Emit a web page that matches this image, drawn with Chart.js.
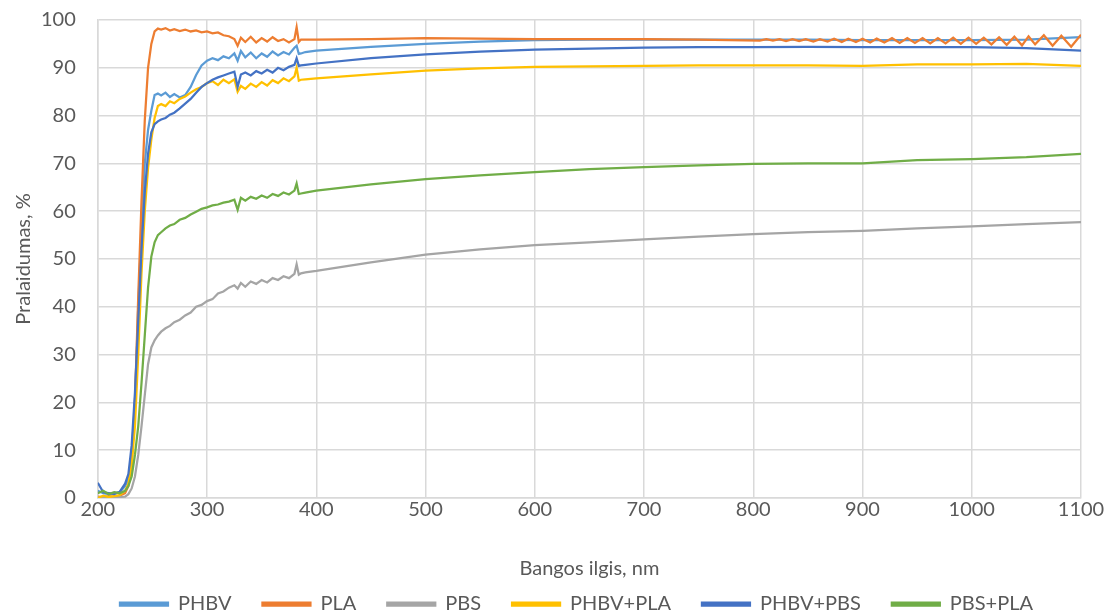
<!DOCTYPE html>
<html>
<head>
<meta charset="utf-8">
<script src="https://cdn.jsdelivr.net/npm/chart.js@4.4.1/dist/chart.umd.min.js"></script>
<style>
  html, body { margin: 0; padding: 0; background: #fff; }
  #wrap { width: 1116px; height: 613px; }
</style>
</head>
<body>
<div id="wrap"><canvas id="spectraChart"></canvas></div>
<script>
// wavelengths (nm) shared by all series
var nm = [200, 205, 210, 215, 220, 225, 228, 231, 234, 237, 240, 243, 246, 249, 252,
          255, 258, 262, 266, 270, 275, 280, 285, 290, 295, 300, 305, 310, 315, 320,
          325, 328, 331, 335, 340, 345, 350, 355, 360, 365, 370, 375, 380, 382, 384,
          386, 390, 400, 450, 500, 550, 600, 650, 700, 750, 800, 850, 900, 950, 1000,
          1050, 1100];

var phbv = [1.5, 1.0, 0.8, 1.0, 1.2, 2.5, 4, 9, 20, 40, 56, 70, 77, 81, 84.3,
            84.6, 84.2, 84.8, 83.9, 84.5, 83.8, 84.3, 86.0, 88.5, 90.5, 91.5, 92.0, 91.6, 92.4, 92.0,
            93.0, 91.5, 93.5, 92.2, 93.2, 92.0, 93.0, 92.3, 93.4, 92.6, 93.3, 92.8, 94.2, 94.6, 92.9,
            93.0, 93.3, 93.6, 94.4, 95.0, 95.5, 95.8, 95.9, 95.9, 95.9, 95.9, 95.9, 95.8, 95.8, 95.8,
            95.9, 96.4];

// PLA up to 800 nm, then the interference fringes
var pla = [0.3, 0.2, 0.4, 0.3, 0.5, 1.0, 2.5, 7, 20, 42, 62, 79, 90, 95, 97.6,
           98.2, 98.0, 98.3, 97.8, 98.1, 97.7, 98.0, 97.6, 97.8, 97.4, 97.6, 97.2, 97.4, 96.8, 96.6,
           96.0, 94.6, 96.3, 95.4, 96.5, 95.3, 96.2, 95.5, 96.4, 95.6, 96.0, 95.3, 96.0, 98.5, 95.4,
           95.9, 95.9, 95.9, 96.0, 96.2, 96.1, 96.0, 96.0, 96.0, 95.9];
var plaFringeNm = [800, 806, 812, 818, 824, 830, 836, 842, 848, 855, 861, 868, 874, 881, 887,
                   894, 900, 907, 913, 920, 927, 934, 941, 948, 955, 962, 969, 976, 983, 990,
                   997, 1004, 1011, 1018, 1025, 1032, 1039, 1046, 1052, 1058, 1066, 1074, 1082, 1091, 1100];
var plaFringe = [95.9, 95.7, 96.0, 95.7, 96.0, 95.6, 96.0, 95.6, 96.0, 95.5, 96.0, 95.5, 96.1, 95.4, 96.1,
                 95.4, 96.1, 95.3, 96.1, 95.3, 96.2, 95.2, 96.2, 95.2, 96.2, 95.1, 96.2, 95.1, 96.3, 95.0,
                 96.3, 95.0, 96.3, 94.9, 96.4, 94.8, 96.5, 94.7, 96.6, 94.9, 96.8, 94.6, 96.7, 94.4, 96.9];

var pbs = [0.2, 0.0, 0.3, 0.1, 0.2, 0.3, 0.8, 2.0, 4.5, 9, 15, 21.5, 28, 31.5, 33.0,
           34.0, 34.8, 35.5, 36.0, 36.8, 37.3, 38.2, 38.8, 40.0, 40.4, 41.2, 41.6, 42.8, 43.2, 44.0,
           44.5, 43.8, 45.0, 44.2, 45.3, 44.8, 45.6, 45.1, 46.0, 45.6, 46.4, 46.0, 46.9, 48.9, 46.7,
           47.0, 47.2, 47.5, 49.3, 50.9, 52.0, 52.9, 53.5, 54.1, 54.7, 55.2, 55.6, 55.9, 56.4, 56.8,
           57.3, 57.7];

var phbvPla = [0.0, 0.5, 0.2, 0.4, 0.6, 1.5, 3, 7, 15, 30, 47, 60, 69, 75, 79.5,
               82.0, 82.4, 82.0, 83.0, 82.6, 83.5, 84.0, 84.8, 85.5, 86.0, 86.8, 87.2, 86.4, 87.5, 86.8,
               87.6, 85.0, 86.2, 85.6, 86.7, 86.0, 87.0, 86.3, 87.4, 86.8, 87.8, 87.2, 88.2, 90.0, 87.3,
               87.5, 87.6, 87.8, 88.6, 89.4, 89.9, 90.2, 90.3, 90.4, 90.5, 90.5, 90.5, 90.4, 90.7, 90.7,
               90.8, 90.4];

var phbvPbs = [3.2, 1.2, 1.0, 0.8, 1.3, 3.0, 5, 11, 22, 37, 52, 64, 72, 76.5, 78.2,
               78.8, 79.2, 79.5, 80.2, 80.6, 81.5, 82.5, 83.5, 84.8, 86.0, 86.8, 87.5, 88.0, 88.4, 88.8,
               89.2, 86.0, 88.6, 89.0, 88.4, 89.3, 88.8, 89.6, 89.0, 90.0, 89.5, 90.2, 90.6, 92.0, 90.4,
               90.5, 90.6, 90.9, 92.0, 92.8, 93.4, 93.8, 94.0, 94.2, 94.3, 94.3, 94.4, 94.3, 94.3, 94.3,
               94.1, 93.6];

var pbsPla = [1.0, 1.5, 0.8, 1.2, 1.0, 1.5, 2.5, 4.5, 9, 15, 24, 34, 44, 50.5, 53.5,
              55.0, 55.6, 56.4, 57.0, 57.3, 58.2, 58.6, 59.3, 59.9, 60.5, 60.8, 61.2, 61.4, 61.8, 62.0,
              62.4, 60.3, 62.8, 62.2, 63.0, 62.6, 63.3, 62.8, 63.6, 63.2, 63.9, 63.5, 64.3, 65.8, 63.6,
              63.7, 63.9, 64.3, 65.6, 66.7, 67.5, 68.2, 68.8, 69.2, 69.6, 69.9, 70.0, 70.0, 70.7, 70.9,
              71.3, 72.0];

var seriesNames = ['PHBV', 'PLA', 'PBS', 'PHBV+PLA', 'PHBV+PBS', 'PBS+PLA'];
var seriesColors = ['#5B9BD5', '#ED7D31', '#A5A5A5', '#FFC000', '#4472C4', '#70AD47'];

var xTicks = [200, 300, 400, 500, 600, 700, 800, 900, 1000, 1100];
var yTicks = [0, 10, 20, 30, 40, 50, 60, 70, 80, 90, 100];

function toPoints(xs, ys) {
    return ys.map(function (v, i) {
        return { x: xs[i], y: v };
    });
}

var plaPoints = toPoints(nm, pla).concat(toPoints(plaFringeNm, plaFringe).slice(1));
var allData = [toPoints(nm, phbv), plaPoints, toPoints(nm, pbs),
               toPoints(nm, phbvPla), toPoints(nm, phbvPbs), toPoints(nm, pbsPla)];

var textColor = '#595959';
var gridColor = '#d9d9d9';
var font = { family: 'Lato', size: 20 };

var datasets = allData.map(function (pts, i) {
    return {
        label: seriesNames[i],
        data: pts,
        borderColor: seriesColors[i],
        backgroundColor: seriesColors[i],
        borderWidth: 2.25,
        pointRadius: 0,
        tension: 0,
        order: seriesNames.length - 1 - i   // later series on top, like the original
    };
});

// legend sits a bit right of centre in the original
var legendShift = {
    id: 'legendShift',
    afterLayout: function (chart) {
        if (chart.legend) {
            chart.legend.left += 30;
            chart.legend.right += 30;
        }
    }
};

var ctx = document.getElementById('spectraChart').getContext('2d');
var spectraChart = new Chart(ctx, {
    type: 'line',
    data: { datasets: datasets },
    plugins: [legendShift],
    options: {
        responsive: true,
        maintainAspectRatio: false,
        animation: false,
        layout: { padding: { left: 12, right: 35, top: 20, bottom: -11 } },
        plugins: {
            tooltip: { enabled: false },
            legend: {
                position: 'bottom',
                labels: {
                    color: textColor,
                    font: font,
                    boxWidth: 48,
                    boxHeight: 3,
                    padding: 31,
                    sort: function (a, b) { return a.datasetIndex - b.datasetIndex; }
                }
            }
        },
        scales: {
            x: {
                type: 'linear',
                min: 200,
                max: 1100,
                afterBuildTicks: function (axis) {
                    axis.ticks = xTicks.map(function (v) { return { value: v }; });
                },
                afterFit: function (axis) {
                    axis.paddingLeft = 0;
                    axis.paddingRight = 0;
                },
                grid: { color: gridColor, lineWidth: 1.5, drawTicks: false },
                border: { color: gridColor, width: 1.5 },
                ticks: {
                    color: textColor, font: font, padding: 0, maxRotation: 0,
                    callback: function (v) { return String(v); }
                },
                title: { display: true, text: 'Bangos ilgis, nm', color: textColor, font: font, padding: { top: 35, bottom: -18 } }
            },
            y: {
                min: 0,
                max: 100,
                afterBuildTicks: function (axis) {
                    axis.ticks = yTicks.map(function (v) { return { value: v }; });
                },
                afterFit: function (axis) {
                    axis.paddingTop = 0;
                    axis.paddingBottom = 0;
                },
                grid: { color: gridColor, lineWidth: 1.5, drawTicks: false },
                border: { color: gridColor, width: 1.5 },
                ticks: { color: textColor, font: font, padding: 22 },
                title: { display: true, text: 'Pralaidumas, %', color: textColor, font: font, padding: { top: 0, bottom: -17 } }
            }
        }
    }
});
</script>
</body>
</html>
